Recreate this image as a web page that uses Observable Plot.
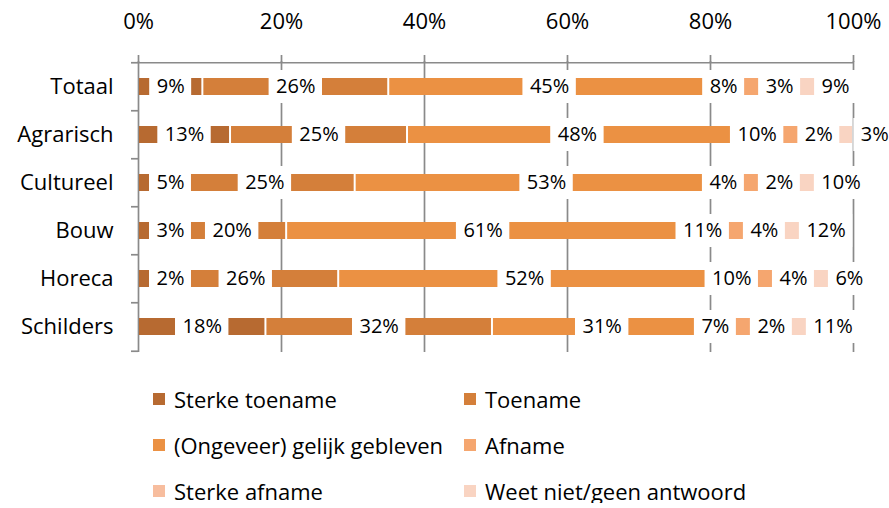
<!DOCTYPE html>
<html><head><meta charset="utf-8">
<script src="https://cdn.jsdelivr.net/npm/d3@7"></script>
<script src="https://cdn.jsdelivr.net/npm/@observablehq/plot@0.6"></script>
<style>
body{margin:0;background:#fff;font-family:"Open Sans",sans-serif;overflow:hidden;}
#chart{height:380px;}
#legend{display:grid;grid-template-columns:311px auto;row-gap:22px;margin-top:7px;padding-left:153px;font-size:22px;color:#000;}
.item{height:24px;display:flex;align-items:center;white-space:nowrap;line-height:1;}
.sw{width:12px;height:12px;margin-right:9px;flex:none;}
</style></head><body>
<div id="chart"></div><div id="legend"></div>
<script>
const categories = ["Totaal","Agrarisch","Cultureel","Bouw","Horeca","Schilders"];
const series = ["Sterke toename","Toename","(Ongeveer) gelijk gebleven","Afname","Sterke afname","Weet niet/geen antwoord"];
const colors = ["#B76A31","#D47F3A","#EB9143","#F5A66F","#F7BD9E","#F9D4C2"];
const sterkeToename = [9,13,5,3,2,18];
const toename = [26,25,25,20,26,32];
const gelijk = [45,48,53,61,52,31];
const afname = [8,10,4,11,10,7];
const sterkeAfname = [3,2,2,4,4,2];
const weetNiet = [9,3,10,12,6,11];
const tickValues = [0,0.2,0.4,0.6,0.8,1];

const W = 889, H = 380, mt = 61, mb = 28, ml = 138, mr = 36;
const iw = W - ml - mr;
const step = (H - mt - mb) / categories.length;
const gray = "#8a8a8a";
const seriesValues = [sterkeToename, toename, gelijk, afname, sterkeAfname, weetNiet];

// stacked segments (100% normalised per category)
const segs = [];
categories.forEach((c, i) => {
  const vals = seriesValues.map(s => s[i]);
  const total = d3.sum(vals);
  let cum = 0;
  vals.forEach((v, j) => {
    const x1 = cum / total; cum += v;
    segs.push({cat: c, series: series[j], value: v, x1, x2: cum / total, ri: i, sj: j});
  });
});

// label placement: centred on segment, pushed apart when boxes overlap
const ctx = document.createElement("canvas").getContext("2d");
ctx.font = "20px 'Open Sans'";
const G = 14, PAD = 7, LEFT = 11;
const labels = [];
categories.forEach((c, i) => {
  const items = segs.filter(d => d.ri === i).map(d => {
    const text = d.value + "%";
    return {cat: c, text, c: ml + (d.x1 + d.x2) / 2 * iw, w: ctx.measureText(text).width + 2 * PAD};
  });
  const o = [0];
  for (let k = 1; k < items.length; k++) o[k] = o[k-1] + (items[k-1].w + items[k].w) / 2 + G;
  const t = items.map((d, k) => d.c - o[k]);
  const blocks = [];
  t.forEach(v => {
    blocks.push({s: v, n: 1});
    while (blocks.length > 1 && blocks[blocks.length-2].s / blocks[blocks.length-2].n > blocks[blocks.length-1].s / blocks[blocks.length-1].n) {
      const b = blocks.pop(); blocks[blocks.length-1].s += b.s; blocks[blocks.length-1].n += b.n;
    }
  });
  const y = [];
  blocks.forEach(b => { for (let k = 0; k < b.n; k++) y.push(b.s / b.n); });
  const lb = ml + LEFT + items[0].w / 2;
  items.forEach((d, k) => {
    const px = Math.max(y[k], lb) + o[k];
    labels.push({cat: c, text: d.text, xc: (px - ml) / iw, bx1: (px - d.w/2 - ml) / iw, bx2: (px + d.w/2 - ml) / iw});
  });
});

const chart = Plot.plot({
  width: W, height: H, marginTop: mt, marginBottom: mb, marginLeft: ml, marginRight: mr,
  style: {fontFamily: "'Open Sans', sans-serif", color: "black", background: "white", overflow: "visible"},
  x: {domain: [0, 1]},
  y: {domain: categories, paddingInner: 0.65, paddingOuter: 0.325},
  marks: [
    Plot.ruleX(tickValues, {stroke: gray, strokeWidth: 1.7}),
    Plot.barX(segs, {x1: "x1", x2: "x2", y: "cat", fill: d => colors[d.sj], insetLeft: 1, insetRight: 1}),
    Plot.barX(labels, {x1: "bx1", x2: "bx2", y: "cat", fill: "white", insetTop: -8, insetBottom: -8}),
    Plot.text(labels, {x: "xc", y: "cat", text: "text", fontSize: 20, fill: "black"}),
    Plot.ruleY([categories[0]], {y: d => d, dy: -step / 2, stroke: gray, strokeWidth: 1.7}),
    Plot.ruleY(categories, {y: d => d, x1: 0, x2: 0, insetLeft: -7, dy: -step / 2, stroke: gray, strokeWidth: 1.7}),
    Plot.ruleY([categories[categories.length-1]], {y: d => d, x1: 0, x2: 0, insetLeft: -7, dy: step / 2, stroke: gray, strokeWidth: 1.7}),
    Plot.axisX({anchor: "top", ticks: tickValues, tickFormat: d3.format(".0%"), tickSize: 7, tickPadding: 26, fontSize: 22, stroke: gray, strokeWidth: 1.7, fill: "black", label: null}),
    Plot.axisY({anchor: "left", tickSize: 0, tickPadding: 25, fontSize: 22, fill: "black", label: null})
  ]
});
chart.style.display = "block";
document.getElementById("chart").appendChild(chart);

const legend = document.getElementById("legend");
series.forEach((s, j) => {
  const it = document.createElement("div"); it.className = "item";
  const sw = document.createElement("span"); sw.className = "sw"; sw.style.background = colors[j];
  const tx = document.createElement("span"); tx.textContent = s;
  it.appendChild(sw); it.appendChild(tx); legend.appendChild(it);
});
</script>
</body></html>
